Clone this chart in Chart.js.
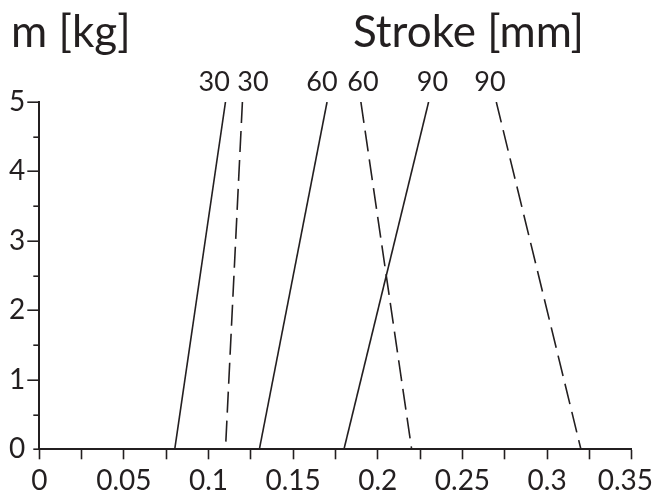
<!DOCTYPE html>
<html><head><meta charset="utf-8">
<script src="https://cdn.jsdelivr.net/npm/chart.js@4"></script>
<style>html,body{margin:0;padding:0;background:#fff}#wrap{width:656px;height:495px;position:relative}</style>
</head><body><div id="wrap"><canvas id="c" width="656" height="495"></canvas></div>
<script>
// ---- data ----
const strokeLabels = ['30', '30', '60', '60', '90', '90'];
const massRange = [0, 5];
const strokeAtMassMin = [0.08, 0.11, 0.13, 0.22, 0.18, 0.32];
const strokeAtMassMax = [0.11, 0.12, 0.17, 0.19, 0.23, 0.27];
const isDashed = [false, true, false, true, false, true];
const labelAnchorX = [0.1033, 0.1262, 0.167, 0.1912, 0.2323, 0.2663];
const labelAnchorY = 5.29;
const xTickValues = [0, 0.05, 0.1, 0.15, 0.2, 0.25, 0.3, 0.35];
const xTickLabels = ['0', '0.05', '0.1', '0.15', '0.2', '0.25', '0.3', '0.35'];
const yTickValues = [0, 1, 2, 3, 4, 5];
const yTickLabels = ['0', '1', '2', '3', '4', '5'];
const yTitle = 'm [kg]';
const xTitle = 'Stroke [mm]';

const INK = '#231f20';
const FONT = 'Lato, "Noto Sans", sans-serif';

const datasets = strokeLabels.map((s, i) => ({
  label: s + (isDashed[i] ? ' dashed' : ''),
  data: [{x: strokeAtMassMax[i], y: massRange[1]}, {x: strokeAtMassMin[i], y: massRange[0]}],
  showLine: true,
  borderColor: INK,
  borderWidth: 1.6,
  borderDash: isDashed[i] ? [21, 8] : [],
  pointRadius: 0,
  fill: false,
  tension: 0
}));

const labelFor = (vals, labs, v) => {
  for (let i = 0; i < vals.length; i++) if (Math.abs(vals[i] - v) < 1e-6) return labs[i];
  return '';
};

const overlay = {
  id: 'overlay',
  afterDraw(chart) {
    const ctx = chart.ctx;
    const xs = chart.scales.x, ys = chart.scales.y;
    const left = chart.chartArea.left, bottom = chart.chartArea.bottom;
    ctx.save();
    // y minor/major ticks
    ctx.strokeStyle = INK;
    ctx.lineWidth = 1.6;
    for (let v = massRange[0]; v <= massRange[1] + 1e-9; v += 0.5) {
      const y = Math.round(ys.getPixelForValue(v)) + 0.2;
      const major = Math.abs(v - Math.round(v)) < 1e-6 && v > 0;
      const len = major ? 12 : 6;
      ctx.beginPath();
      ctx.moveTo(left - len, y);
      ctx.lineTo(left, y);
      ctx.stroke();
    }
    ctx.fillStyle = INK;
    // x tick labels (kept inside the canvas at the right edge)
    ctx.font = '28px ' + FONT;
    ctx.textAlign = 'left';
    ctx.textBaseline = 'alphabetic';
    xTickValues.forEach((v, i) => {
      const w = ctx.measureText(xTickLabels[i]).width;
      let x = xs.getPixelForValue(v) - w / 2;
      x = Math.min(x, chart.width - 3 - w);
      ctx.fillText(xTickLabels[i], x, bottom + 41);
    });
    // line labels
    ctx.font = '27px ' + FONT;
    ctx.textAlign = 'center';
    ctx.textBaseline = 'middle';
    strokeLabels.forEach((s, i) => {
      ctx.fillText(s, xs.getPixelForValue(labelAnchorX[i]), ys.getPixelForValue(labelAnchorY));
    });
    // titles
    ctx.font = '44px ' + FONT;
    ctx.textBaseline = 'alphabetic';
    ctx.textAlign = 'left';
    ctx.fillText(yTitle, 11, 47);
    ctx.textAlign = 'center';
    ctx.fillText(xTitle, 468.5, 47);
    ctx.restore();
  }
};

new Chart(document.getElementById('c'), {
  type: 'scatter',
  data: {datasets},
  options: {
    responsive: false,
    animation: false,
    devicePixelRatio: 1,
    layout: {padding: {top: 102, left: 0, right: 24.3, bottom: 0}},
    plugins: {legend: {display: false}, tooltip: {enabled: false}},
    scales: {
      x: {
        type: 'linear', min: 0, max: 0.35,
        afterBuildTicks: (scale) => {
          const t = [];
          for (let k = 0; k <= 14; k++) t.push({value: k * 0.025});
          scale.ticks = t;
        },
        afterFit: (scale) => { scale.height = 45.7; scale.paddingLeft = 0; scale.paddingRight = 0; },
        ticks: {display: false, autoSkip: false, maxRotation: 0},
        grid: {display: true, drawOnChartArea: false, drawTicks: true, tickLength: 10, tickColor: INK, tickWidth: 1.6},
        border: {display: true, color: INK, width: 2}
      },
      y: {
        type: 'linear', min: 0, max: 5,
        afterBuildTicks: (scale) => {
          const t = [];
          for (let k = 0; k <= 10; k++) t.push({value: k * 0.5});
          scale.ticks = t;
        },
        afterFit: (scale) => { scale.width = 39.3; },
        ticks: {
          autoSkip: false, color: INK, padding: 2,
          font: {family: FONT, size: 28},
          callback: (v) => labelFor(yTickValues, yTickLabels, v)
        },
        grid: {display: true, drawOnChartArea: false, drawTicks: true, tickLength: 12, tickColor: 'rgba(0,0,0,0)'},
        border: {display: true, color: INK, width: 2}
      }
    }
  },
  plugins: [overlay]
});
</script>
</body></html>
